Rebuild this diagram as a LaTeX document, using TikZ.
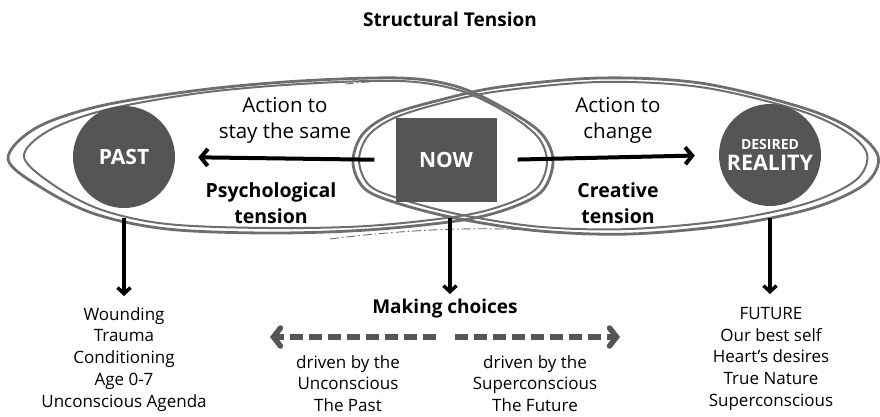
\documentclass[tikz,border=0pt]{standalone}
\usepackage{fontspec}
\setmainfont{Open Sans}
\usetikzlibrary{arrows.meta}
\definecolor{loopgray}{RGB}{110,110,110}
\definecolor{fillgray}{RGB}{85,85,85}

\begin{document}
\begin{tikzpicture}[x=1pt,y=-1pt,
  loopline/.style={draw=loopgray,line width=2.8pt,line join=round},
  thinloop/.style={draw=loopgray,line width=2pt,line join=round},
  sketchline/.style={draw=loopgray,line width=0.9pt,dash pattern=on 9pt off 3pt on 1.5pt off 3pt},
  disc/.style={circle,fill=fillgray,minimum size=102pt,inner sep=0pt,text=white},
  nowbox/.style={rectangle,fill=fillgray,minimum width=101pt,minimum height=84pt,text=white,
    font=\bfseries\fontsize{21}{21}\selectfont},
  actiontext/.style={align=center,font=\fontsize{20.5}{26}\selectfont},
  tensiontext/.style={align=center,font=\bfseries\fontsize{19.5}{26}\selectfont},
  listtext/.style={align=center,anchor=north,inner sep=0pt,font=\fontsize{17}{21.8}\selectfont},
  tensarrow/.style={line width=4pt,-{Straight Barb[length=7pt,width=17pt]}},
  downarrow/.style={line width=3.5pt,-{Straight Barb[length=6pt,width=13pt]}},
  choicearrow/.style={line width=5.5pt,draw=fillgray,dash pattern=on 13pt off 6pt,
    -{Straight Barb[length=7pt,width=18pt,line cap=round]}}]
\useasboundingbox (0,0) rectangle (880,416);
%================================================================
%	Title
\node[font=\bfseries\fontsize{19}{19}\selectfont] (title) at (450,19) {Structural Tension};

%================================================================
%	Left loop (past side)
\draw[loopline] plot[smooth cycle,tension=0.55] coordinates {(8,159) (36,128) (100,106) (200,90) (300,81) (400,78) (455,86)
  (500,106) (540,132) (553,160) (543,190) (513,207) (463,220) (367,230) (267,233) (167,229) (95,214) (42,188)};
\draw[thinloop] plot[smooth cycle,tension=0.55] coordinates {(24,157) (48,131) (105,110) (200,93) (300,84) (400,81) (458,90)
  (502,110) (537,136) (547,162) (537,188) (507,204) (460,216) (367,226) (267,228) (167,224) (102,210) (55,186)};
%----------------------------------------------------------------
%	Right loop (desired side)
\draw[loopline] plot[smooth cycle,tension=0.55] coordinates {(353,163) (362,135) (390,115) (440,100) (500,87) (600,78) (700,83)
  (797,106) (850,128) (878,156) (865,184) (813,208) (730,225) (630,234) (540,231) (460,219) (400,204) (365,189)};
\draw[thinloop] plot[smooth cycle,tension=0.55] coordinates {(359,161) (368,136) (394,118) (442,103) (500,91) (600,82) (700,87)
  (795,109) (845,131) (867,154) (856,180) (808,203) (728,220) (630,229) (542,227) (462,215) (404,200) (370,186)};
%----------------------------------------------------------------
\draw[sketchline] (330,239) .. controls (410,229) and (500,224) .. (585,235);
\draw[sketchline] (345,84) -- (390,80);

%================================================================
%	Past, now and desired reality
\node[disc,font=\bfseries\fontsize{21}{21}\selectfont] (past) at (124,157) {PAST};
\node[nowbox] (now) at (446,160) {NOW};
\node[disc,align=center,font=\bfseries\fontsize{21.5}{23}\selectfont] (desired) at (770,155)
  {{\fontsize{14}{14}\selectfont DESIRED}\\[-2pt]REALITY};

%================================================================
%	Tension arrows
\draw[tensarrow,shorten <=21pt,shorten >=23pt] (now.west) -- (past.east);
\draw[tensarrow,shorten <=21pt,shorten >=24pt] (now.east) -- (desired.west);
%----------------------------------------------------------------
\node[actiontext] (stay) at (285,120) {Action to\\stay the same};
\node[actiontext] (change) at (618,120) {Action to\\change};
\node[tensiontext] (psych) at (271,203) {Psychological\\tension};
\node[tensiontext] (creative) at (618,203) {Creative\\tension};

%================================================================
%	Down arrows
\coordinate (pastend) at (124,296);
\coordinate (nowend) at (450,294);
\coordinate (desiredend) at (770,294);
\draw[downarrow,shorten <=10pt] (past) -- (pastend);
\draw[downarrow,shorten <=16pt] (now.south -| nowend) -- (nowend);
\draw[downarrow,shorten <=12pt] (desired) -- (desiredend);

%================================================================
%	Choices
\node[font=\bfseries\fontsize{19}{19}\selectfont] (choices) at (445,309) {Making choices};
\coordinate (choiceL) at (270,337);
\coordinate (gapL) at (436,337);
\coordinate (gapR) at (455,337);
\coordinate (choiceR) at (620,337);
\draw[choicearrow] (gapL) -- (choiceL);
\draw[choicearrow] (gapR) -- (choiceR);
%----------------------------------------------------------------
\node[listtext] (wounds) at (124,307) {Wounding\\Trauma\\Conditioning\\Age 0-7\\Unconscious Agenda};
\node[listtext] (unconsc) at (348,355) {driven by the\\Unconscious\\The Past};
\node[listtext] (supercon) at (535,355) {driven by the\\Superconscious\\The Future};
\node[listtext] (future) at (771,307) {FUTURE\\Our best self\\Heart’s desires\\True Nature\\Superconscious};
%================================================================
\end{tikzpicture}
\end{document}
